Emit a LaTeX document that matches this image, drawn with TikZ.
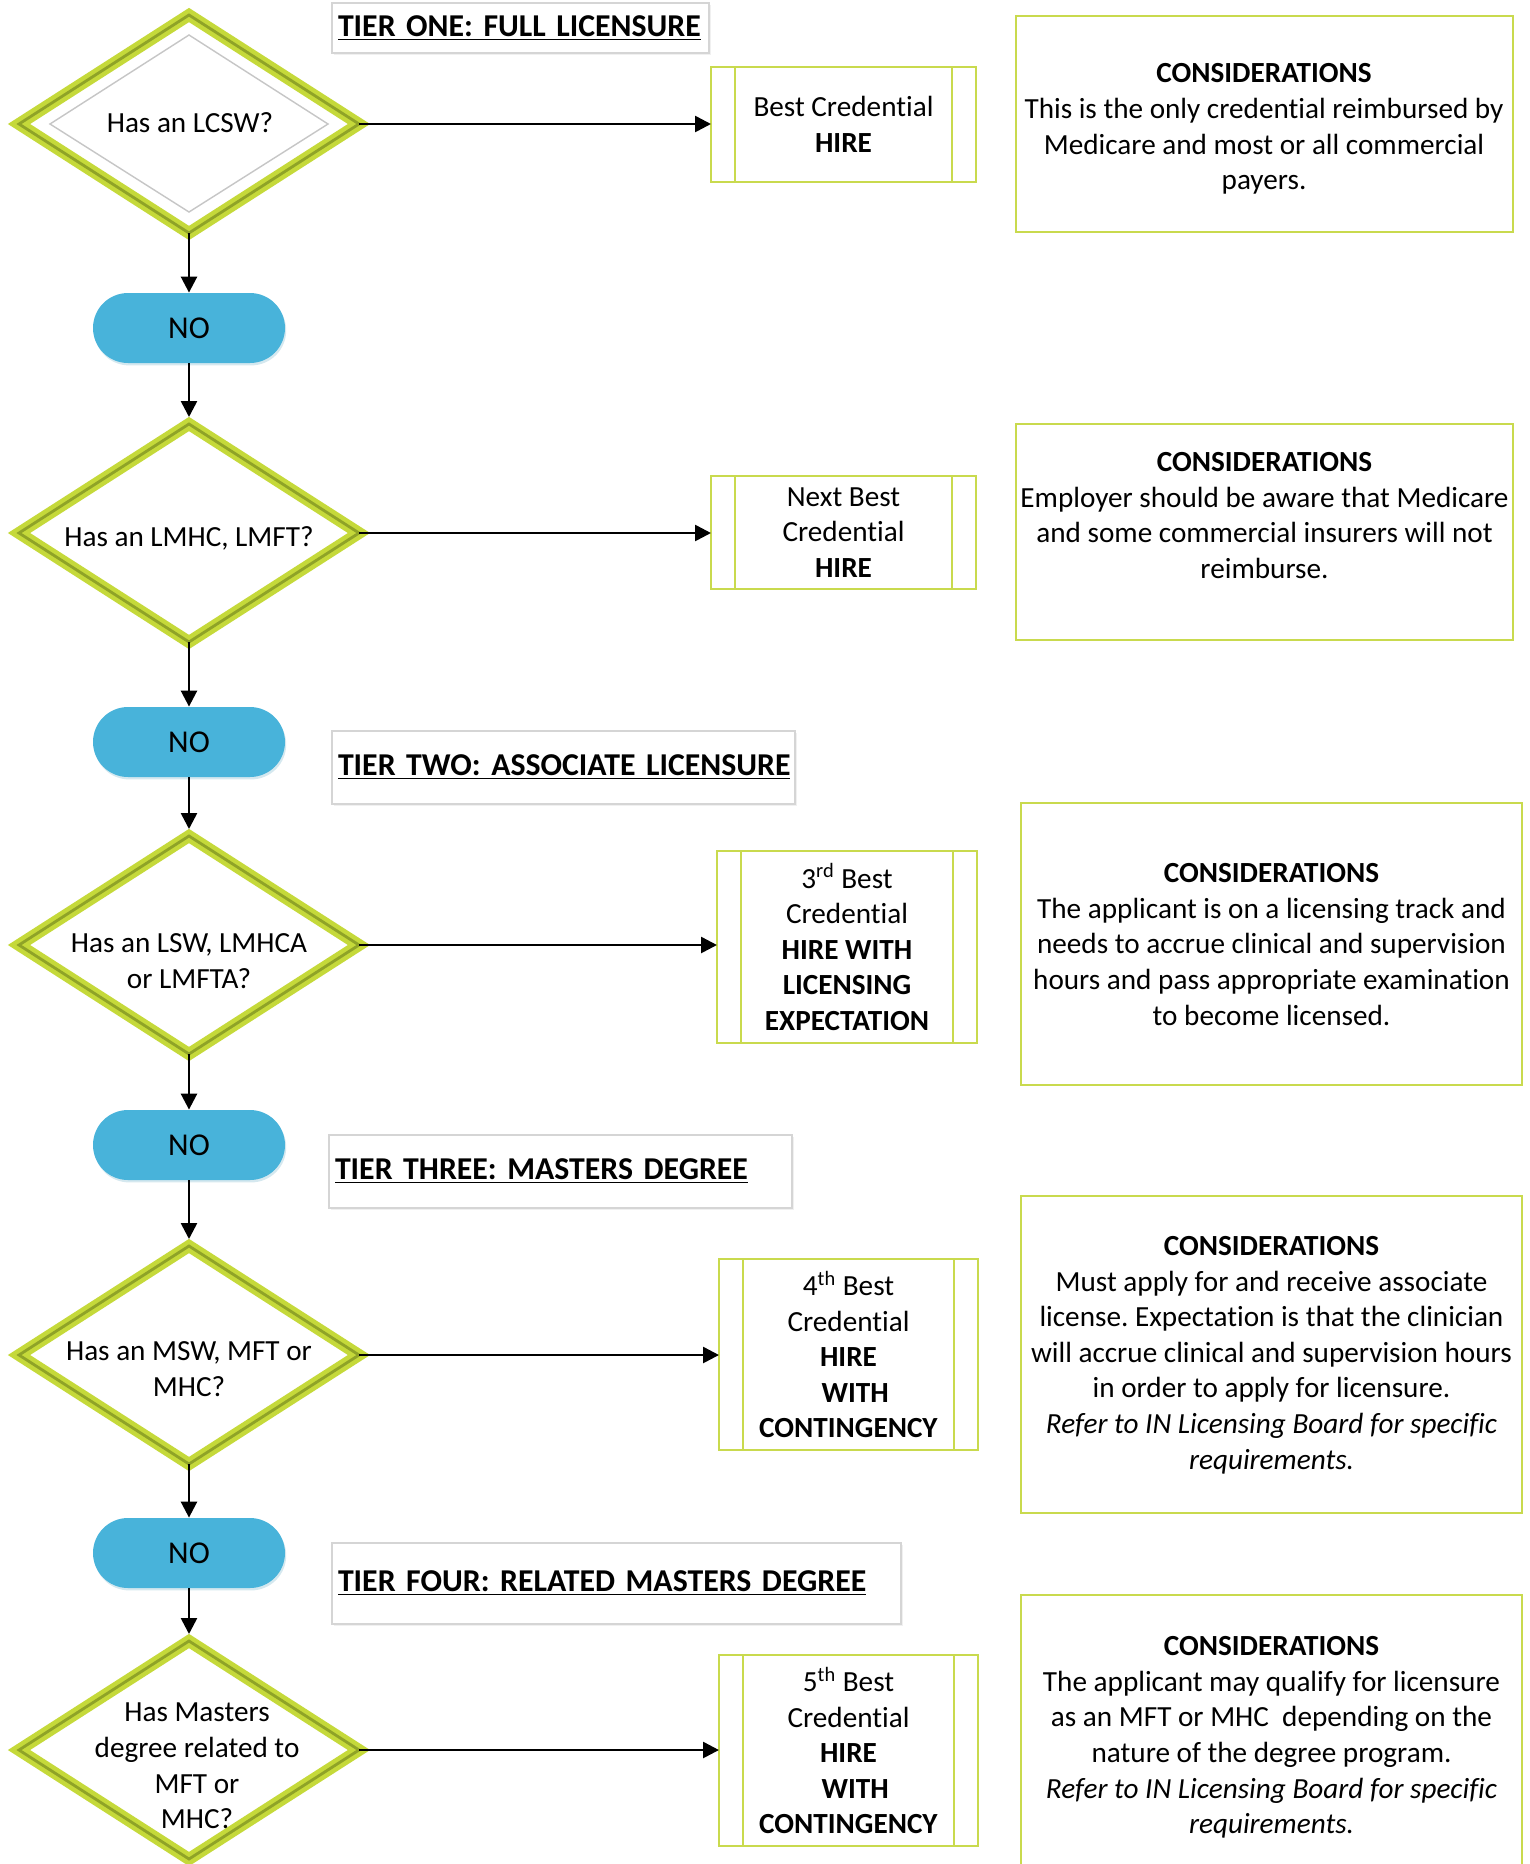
\documentclass[tikz,border=0pt]{standalone}
\usepackage{fontspec}
\setmainfont{Carlito}[Ligatures={NoCommon,NoContextual,NoRequired}]
\usetikzlibrary{shapes.geometric,arrows.meta,shadows}
\definecolor{limeA}{HTML}{C5D93A}
\definecolor{oliveA}{HTML}{8FA327}
\definecolor{boxlime}{HTML}{C9DA4E}
\definecolor{pillblue}{HTML}{48B3DA}
\definecolor{tierline}{HTML}{D5D5D5}
\frenchspacing
\tikzset{
  body/.style={font=\fontsize{14.6}{17.8}\selectfont},
  decision/.style={shape=diamond, draw=limeA, line width=2.3pt, double=oliveA,
    double distance=1.4pt, fill=white, minimum width=170pt, minimum height=109pt,
    inner sep=0pt, outer sep=0pt, miter limit=10},
  qtext/.style={body, align=center, inner sep=0pt},
  nopill/.style={rectangle, rounded corners=17.5pt, fill=pillblue, minimum width=96pt,
    minimum height=35pt, inner sep=0pt, font=\fontsize{15.9}{19}\selectfont,
    drop shadow={opacity=0.25, shadow xshift=0.6pt, shadow yshift=-1.2pt, fill=pillblue!70!gray}},
  procbox/.style={rectangle, draw=boxlime, line width=1pt, fill=white, inner sep=0pt,
    outer sep=0pt, align=center, body,
    path picture={
      \draw[boxlime, line width=1pt] ([xshift=12pt]path picture bounding box.north west) -- ([xshift=12pt]path picture bounding box.south west);
      \draw[boxlime, line width=1pt] ([xshift=-12pt]path picture bounding box.north east) -- ([xshift=-12pt]path picture bounding box.south east);
    }},
  consbox/.style={rectangle, draw=boxlime, line width=1.2pt, fill=white, inner sep=0pt},
  constext/.style={body, align=center, inner sep=0pt},
  tierbox/.style={rectangle, draw=tierline, line width=0.6pt, fill=white, inner xsep=3pt,
    inner ysep=0pt, align=left, font=\bfseries\fontsize{15.9}{19}\selectfont,
    drop shadow={opacity=0.12, shadow xshift=1pt, shadow yshift=-1pt, fill=gray}},
  arr/.style={line width=1.3pt, -{Triangle[length=8pt,width=8pt]}},
}
\begin{document}
\begin{tikzpicture}[x=0.5pt,y=-0.5pt]
\useasboundingbox (0,0) rectangle (1530,1864);

% decisions
\node[decision] (d1) at (189,124) {};
\node[decision] (d2) at (189,533) {};
\node[decision] (d3) at (189,945) {};
\node[decision] (d4) at (189,1355) {};
\node[decision] (d5) at (189,1750) {};
\draw[gray!45, line width=0.7pt] ([yshift=44.5pt]d1.center) -- ([xshift=69.5pt]d1.center) -- ([yshift=-44pt]d1.center) -- ([xshift=-69.5pt]d1.center) -- cycle;

\node[qtext] (d1t) at (190,123) {Has an LCSW?};
\node[qtext] (d2t) at (189,538) {Has an LMHC, LMFT?};
\node[qtext] (d3t) at (189,961) {Has an LSW, LMHCA\\or LMFTA?};
\node[qtext] (d4t) at (189,1369) {Has an MSW, MFT or\\MHC?};
\node[qtext] (d5t) at (197,1766) {Has Masters\\degree related to\\MFT or\\MHC?};

% NO pills
\node[nopill] (n1) at (189,328) {NO};
\node[nopill] (n2) at (189,742) {NO};
\node[nopill] (n3) at (189,1145) {NO};
\node[nopill] (n4) at (189,1553) {NO};

% process boxes
\node[procbox, minimum width=132.5pt, minimum height=57.5pt] (b1) at (843.5,124.5) {Best Credential\\\textbf{HIRE}};
\node[procbox, minimum width=132.5pt, minimum height=56.5pt] (b2) at (843.5,532.5) {Next Best\\Credential\\\textbf{HIRE}};
\node[procbox, minimum width=130pt, minimum height=96pt] (b3) at (847,947) {3\textsuperscript{rd} Best\\Credential\\\textbf{HIRE WITH}\\\textbf{LICENSING}\\\textbf{EXPECTATION}};
\node[procbox, minimum width=129.5pt, minimum height=95.5pt] (b4) at (848.5,1354.5) {4\textsuperscript{th} Best\\Credential\\\textbf{HIRE}\\\textbf{\ \ WITH}\\\textbf{CONTINGENCY}};
\node[procbox, minimum width=129.5pt, minimum height=95.5pt] (b5) at (848.5,1750.5) {5\textsuperscript{th} Best\\Credential\\\textbf{HIRE}\\\textbf{\ \ WITH}\\\textbf{CONTINGENCY}};

% considerations
\node[consbox, minimum width=248.5pt, minimum height=108pt] (c1) at (1264.5,124) {};
\node[consbox, minimum width=248.5pt, minimum height=108pt] (c2) at (1264.5,532) {};
\node[consbox, minimum width=250.5pt, minimum height=141pt] (c3) at (1271.5,944) {};
\node[consbox, minimum width=250.5pt, minimum height=158.5pt] (c4) at (1271.5,1354.5) {};
\node[consbox, minimum width=250.5pt, minimum height=142.5pt] (c5) at (1271.5,1737.5) {};

\node[constext] (c1t) at (1264,129) {\textbf{CONSIDERATIONS}\\This is the only credential reimbursed by\\Medicare and most or all commercial\\payers.};
\node[constext] (c2t) at (1264.5,515.5) {\textbf{CONSIDERATIONS}\\Employer should be aware that Medicare\\and some commercial insurers will not\\reimburse.};
\node[constext] (c3t) at (1271.5,944.5) {\textbf{CONSIDERATIONS}\\The applicant is on a licensing track and\\needs to accrue clinical and supervision\\hours and pass appropriate examination\\to become licensed.};
\node[constext] (c4t) at (1271.5,1355) {\textbf{CONSIDERATIONS}\\Must apply for and receive associate\\license. Expectation is that the clinician\\will accrue clinical and supervision hours\\in order to apply for licensure.\\\textit{Refer to IN Licensing Board for specific}\\\textit{requirements.}};
\node[constext] (c5t) at (1271.5,1737.5) {\textbf{CONSIDERATIONS}\\The applicant may qualify for licensure\\as an MFT or MHC\ \ depending on the\\nature of the degree program.\\\textit{Refer to IN Licensing Board for specific}\\\textit{requirements.}};

% tier titles
\node[tierbox, text width=182.5pt, minimum height=25pt] (t1) at (520.5,28) {\underline{TIER ONE: FULL LICENSURE}};
\node[tierbox, text width=225.5pt, minimum height=36.5pt] (t2) at (563.5,767.5) {\underline{TIER TWO: ASSOCIATE LICENSURE}};
\node[tierbox, text width=225.5pt, minimum height=36.5pt] (t3) at (560.5,1171.5) {\underline{TIER THREE: MASTERS DEGREE}};
\node[tierbox, text width=278.5pt, minimum height=40.5pt] (t4) at (616.5,1583.5) {\underline{TIER FOUR: RELATED MASTERS DEGREE}};

% connectors
\draw[arr] (d1.east) -- (d1.east -| b1.west);
\draw[arr] (d2.east) -- (d2.east -| b2.west);
\draw[arr] (d3.east) -- (d3.east -| b3.west);
\draw[arr] (d4.east) -- (d4.east -| b4.west);
\draw[arr] (d5.east) -- (d5.east -| b5.west);
\draw[arr] (d1.south) -- (n1.north);
\draw[arr, shorten >=3.5pt] (n1.south) -- (d2.north);
\draw[arr] (d2.south) -- (n2.north);
\draw[arr, shorten >=3.5pt] (n2.south) -- (d3.north);
\draw[arr] (d3.south) -- (n3.north);
\draw[arr, shorten >=3.5pt] (n3.south) -- (d4.north);
\draw[arr] (d4.south) -- (n4.north);
\draw[arr, shorten >=3.5pt] (n4.south) -- (d5.north);
\end{tikzpicture}
\end{document}
